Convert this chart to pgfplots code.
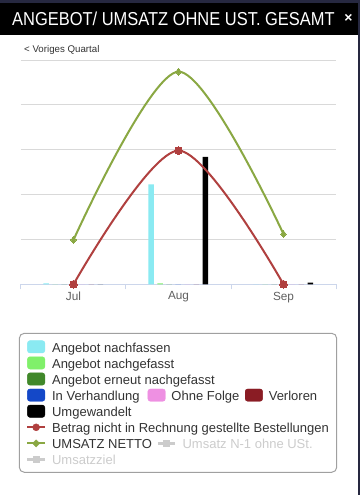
\documentclass[border=0pt]{standalone}
\usepackage{graphicx}
\usepackage{pgfplots}
\pgfplotsset{compat=1.18}
\usepackage{fontspec}
\setmainfont{Liberation Sans}
\definecolor{framec}{HTML}{262840}
\definecolor{cyanc}{HTML}{8AEAF2}
\definecolor{lgreenc}{HTML}{80F06A}
\definecolor{dgreenc}{HTML}{40882A}
\definecolor{bluec}{HTML}{1448C8}
\definecolor{pinkc}{HTML}{EE90E2}
\definecolor{dredc}{HTML}{8A1C24}
\definecolor{redl}{HTML}{B0403F}
\definecolor{greenl}{HTML}{8AA843}
\definecolor{gridc}{HTML}{D9D9D9}
\definecolor{axisc}{HTML}{CCD6EB}
\definecolor{txtc}{HTML}{333333}
\definecolor{hidc}{HTML}{CCCCCC}
\definecolor{tickc}{HTML}{606060}
\definecolor{legbox}{HTML}{A0A0A0}

\pgfplotsset{
  sqleg/.style={legend image code/.code={\fill[#1,rounded corners=2.5pt] (0pt,-6.15pt) rectangle (17.4pt,6.15pt);}},
  redleg/.style={legend image code/.code={\draw[redl,line width=2pt] (0pt,0pt) -- (17.4pt,0pt); \fill[redl] (8.7pt,0pt) circle (3.5pt);}},
  greenleg/.style={legend image code/.code={\draw[greenl,line width=2pt] (0pt,0pt) -- (17.4pt,0pt); \fill[greenl] (8.7pt,3.6pt) -- (12.3pt,0pt) -- (8.7pt,-3.6pt) -- (5.1pt,0pt) -- cycle;}},
  grayleg/.style={legend image code/.code={\draw[hidc,line width=2.5pt] (0pt,0pt) -- (17.4pt,0pt); \fill[hidc] (5.7pt,-3pt) rectangle (11.7pt,3pt);}},
  legstyle/.style={legend cell align=left,
    legend style={draw=none, fill=none, inner sep=0pt, outer sep=0pt, row sep=0pt, column sep=6pt,
      font=\fontsize{13}{15}\selectfont,
      nodes={inner xsep=0pt, inner ysep=2pt, text height=11.3pt, text depth=0.8pt, text=txtc}}},
  geom/.style={at={(21pt,-284.3pt)}, anchor=south west, scale only axis, width=315pt, height=224.3pt},
  hidden/.style={geom, hide axis, xmin=0, xmax=1, ymin=0, ymax=1, legstyle},
}

\begin{document}
\begin{tikzpicture}
\useasboundingbox (0pt,0pt) rectangle (360pt,-495pt);
\fill[framec] (0pt,0pt) rectangle (360pt,-495pt);
\fill[white] (0pt,-2.7pt) rectangle (357.5pt,-495pt);
\fill[black] (0pt,-2.7pt) rectangle (357.5pt,-35pt);
\node[anchor=base west, inner sep=0pt, text=white] at (12pt,-26pt)
  {\scalebox{0.88}[1]{\fontsize{18.7}{20}\selectfont ANGEBOT/ UMSATZ OHNE UST. GESAMT}};
\node[inner sep=0pt, text=white] at (348.5pt,-18.3pt) {\fontsize{14}{14}\selectfont\bfseries ×};
\node[anchor=base west, inner sep=0pt, text=txtc] at (24pt,-52.3pt)
  {\fontsize{9.7}{11}\selectfont < Voriges Quartal};
\draw[legbox, line width=1pt, rounded corners=5pt] (19.3pt,-333.3pt) rectangle (336.7pt,-472.3pt);

\begin{axis}[geom,
  xmin=-0.5, xmax=2.5, ymin=0, ymax=5,
  axis x line*=bottom, axis y line*=left,
  x axis line style={draw=axisc, line width=1pt},
  y axis line style={draw=none},
  xtick={0,1,2}, xticklabels={Jul,Aug,Sep},
  major x tick style={draw=none},
  minor xtick={-0.5,0.5,1.5,2.5},
  minor x tick style={draw=axisc, line width=1pt},
  minor tick length=5pt, major tick length=0pt, tick align=outside,
  ytick={1,2,3,4,5}, yticklabels={{},{},{},{},{}},
  ytick style={draw=none}, major y tick style={draw=none},
  ymajorgrids, y grid style={draw=gridc, line width=1pt},
  xticklabel style={font=\fontsize{11.8}{13}\selectfont, text=tickc},
  xticklabel shift=4pt,
  clip=false,
  legstyle, legend style={at={(0.0165,-0.2428)}, anchor=north west},
]
% bars: nachfassen, nachgefasst, erneut, Verhandlung, Ohne Folge, Verloren, Umgewandelt
\addplot[ybar, bar width=5.5pt, bar shift=-27.4pt, fill=cyanc, draw=none, forget plot] coordinates {(0,0.02) (1,2.23) (2,0)};
\addplot[ybar, bar width=5.5pt, bar shift=-18.35pt, fill=lgreenc, draw=none, forget plot] coordinates {(0,0) (1,0.02) (2,0)};
\addplot[ybar, bar width=5.5pt, bar shift=-9.3pt, fill=dgreenc, draw=none, forget plot] coordinates {(0,0) (1,0) (2,0)};
\addplot[ybar, bar width=5.5pt, bar shift=-0.25pt, fill=bluec, draw=none, forget plot] coordinates {(0,0) (1,0) (2,0)};
\addplot[ybar, bar width=5.5pt, bar shift=8.8pt, fill=pinkc, draw=none, forget plot] coordinates {(0,0) (1,0) (2,0)};
\addplot[ybar, bar width=5.5pt, bar shift=17.85pt, fill=dredc, draw=none, forget plot] coordinates {(0,0) (1,0) (2,0)};
\addplot[ybar, bar width=5.5pt, bar shift=26.9pt, fill=black, draw=none, forget plot] coordinates {(0,0) (1,2.84) (2,0.04)};
% lines
\addplot[smooth, draw=redl, line width=2pt, mark=*, mark size=3.8pt, mark options={fill=redl, draw=redl, line width=0pt}, forget plot] coordinates {(0,0) (1,2.98) (2,0)};
\addplot[smooth, draw=greenl, line width=2pt, mark=diamond*, mark size=3.6pt, mark options={fill=greenl, draw=greenl, line width=0pt}, forget plot] coordinates {(0,0.99) (1,4.74) (2,1.12)};

\addlegendimage{sqleg=cyanc}\addlegendentry{Angebot nachfassen}
\addlegendimage{sqleg=lgreenc}\addlegendentry{Angebot nachgefasst}
\addlegendimage{sqleg=dgreenc}\addlegendentry{Angebot erneut nachgefasst}
\addlegendimage{sqleg=bluec}\addlegendentry{In Verhandlung}
\addlegendimage{sqleg=black}\addlegendentry{Umgewandelt}
\addlegendimage{redleg}\addlegendentry{Betrag nicht in Rechnung gestellte Bestellungen}
\addlegendimage{greenleg}\addlegendentry{UMSATZ NETTO}
\addlegendimage{grayleg}\addlegendentry{\textcolor{hidc}{Umsatzziel}}
\end{axis}

\begin{axis}[hidden, legend style={at={(0.4022,-0.4940)}, anchor=west}]
\addlegendimage{sqleg=pinkc}\addlegendentry{Ohne Folge}
\end{axis}
\begin{axis}[hidden, legend style={at={(0.7111,-0.4940)}, anchor=west}]
\addlegendimage{sqleg=dredc}\addlegendentry{Verloren}
\end{axis}
\begin{axis}[hidden, legend style={at={(0.4308,-0.7093)}, anchor=west}]
\addlegendimage{grayleg}\addlegendentry{\textcolor{hidc}{Umsatz N-1 ohne USt.}}
\end{axis}
\end{tikzpicture}
\end{document}
